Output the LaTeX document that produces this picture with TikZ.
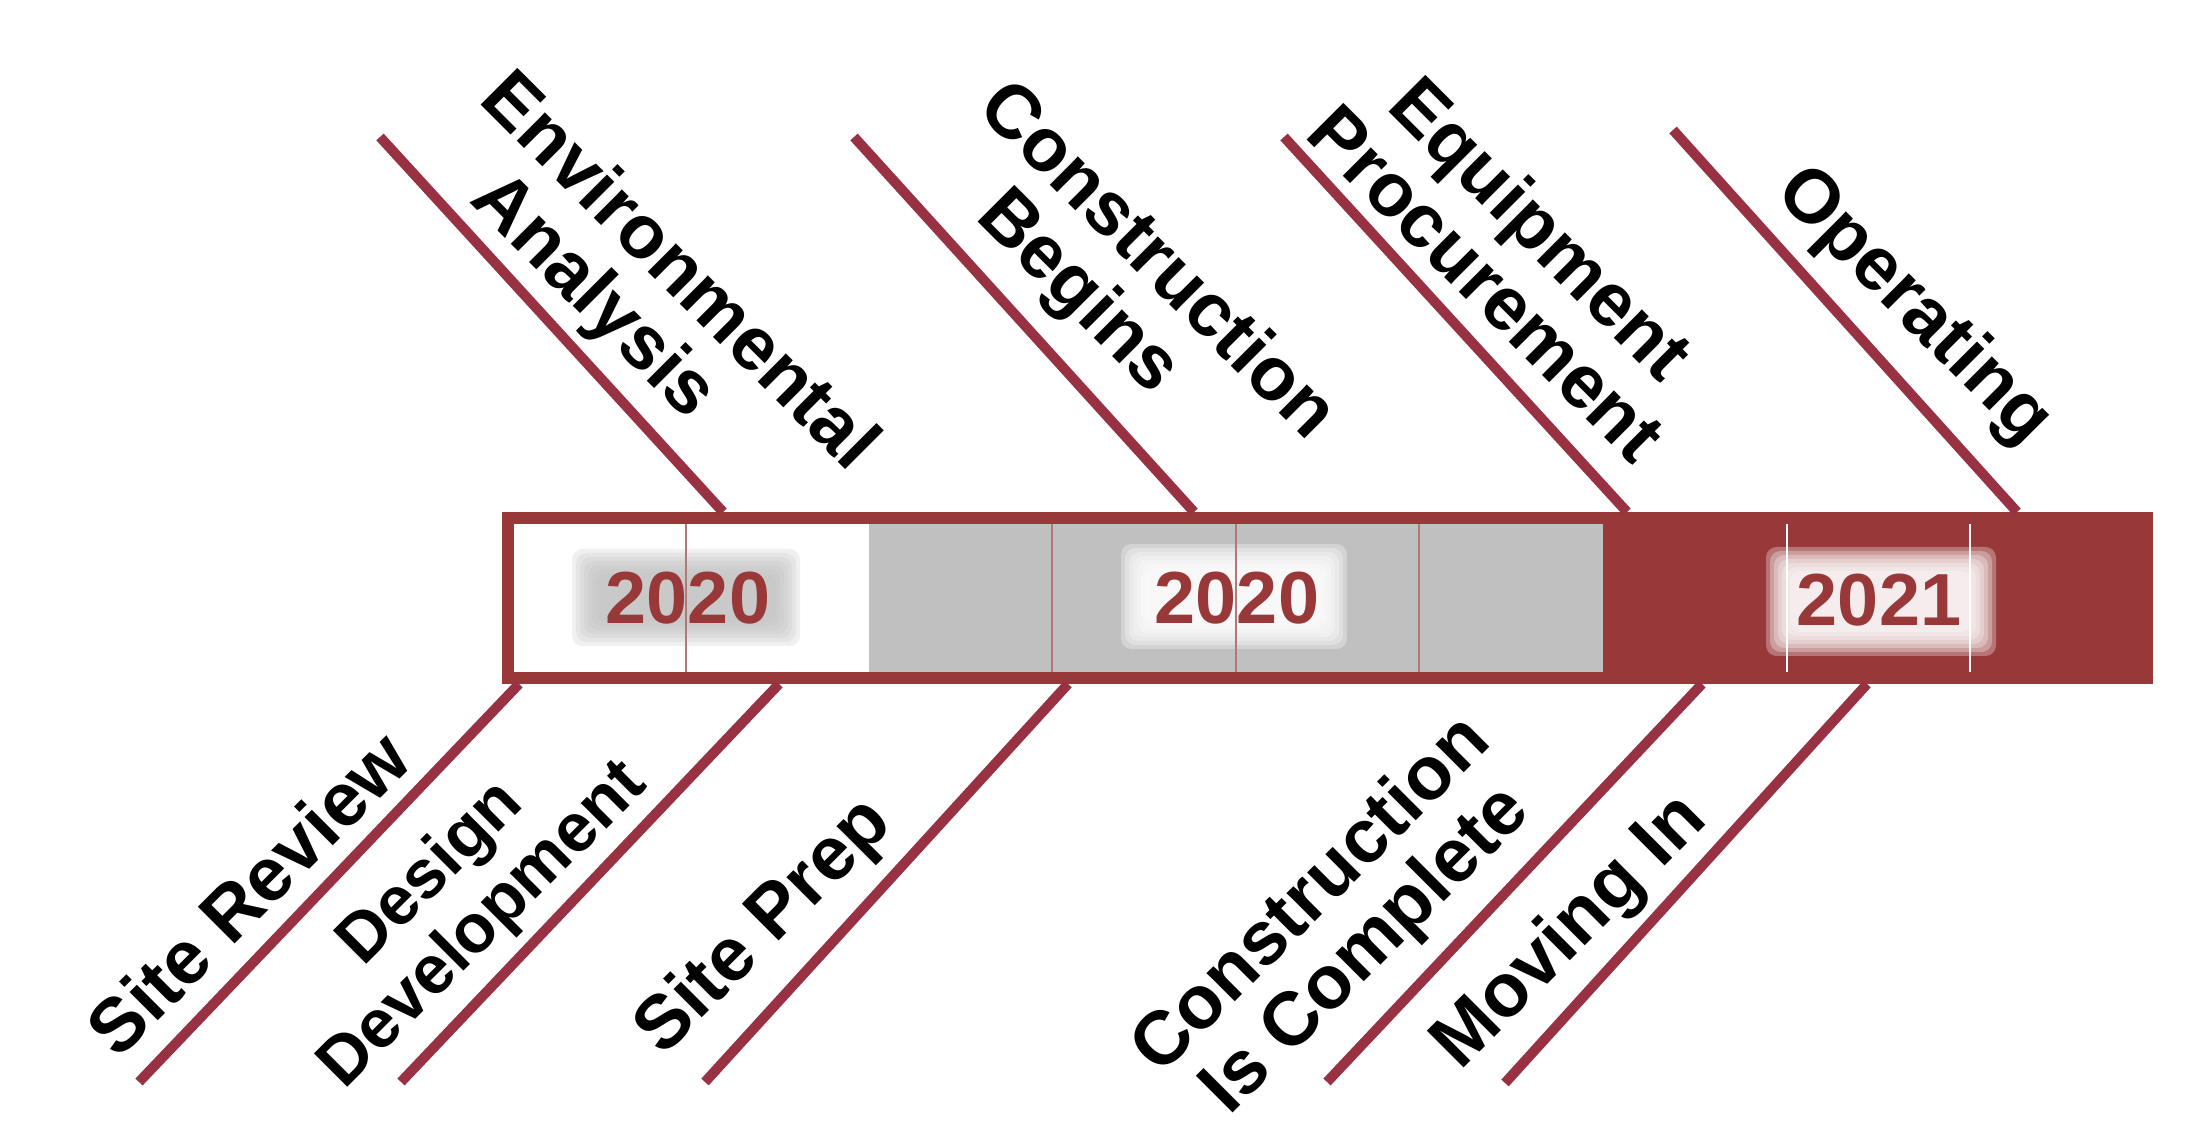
\documentclass[tikz,border=0pt]{standalone}
\usepackage{fontspec}
\setmainfont{Liberation Sans}
\definecolor{barred}{RGB}{153,56,56}
\definecolor{stemred}{RGB}{152,50,66}
\definecolor{cellgray}{RGB}{192,192,192}
\definecolor{cellline}{RGB}{178,120,120}

\begin{document}
\begin{tikzpicture}[
  phase/.style={font=\bfseries\fontsize{21.5}{22}\selectfont, align=center, inner sep=0pt},
  year/.style={text=barred, font=\bfseries\fontsize{21}{22}\selectfont, inner sep=0pt}]
\useasboundingbox (0,0) rectangle (21.89,11.24);
% the bar
\fill[barred] (5.02,4.40) rectangle (21.53,6.12);
\fill[white] (5.14,4.52) rectangle (8.69,6.00);
\fill[cellgray] (8.69,4.52) rectangle (16.03,6.00);
% soft boxes behind the years
\foreach \i in {0,...,6} {
  \fill[gray!50, opacity=0.22, rounded corners=3pt] ({5.72+0.04*\i},{4.78+0.04*\i}) rectangle ({8.00-0.04*\i},{5.75-0.04*\i});
  \fill[white, opacity=0.3, rounded corners=3pt] ({11.21+0.04*\i},{4.75+0.04*\i}) rectangle ({13.47-0.04*\i},{5.80-0.04*\i});
  \fill[white, opacity=0.3, rounded corners=3pt] ({17.66+0.04*\i},{4.68+0.04*\i}) rectangle ({19.96-0.04*\i},{5.77-0.04*\i});
}
\foreach \x in {6.86,10.52,12.36,14.19} \draw[cellline, line width=0.6pt] (\x,4.52) -- (\x,6.00);
\foreach \x in {17.87,19.70} \draw[white, line width=0.6pt] (\x,4.52) -- (\x,6.00);
\node[year] (y1) at (6.88,5.26) {2020};
\node[year] (y2) at (12.37,5.26) {2020};
\node[year] (y3) at (18.79,5.24) {2021};
% stems above
\draw[stemred, line width=0.1cm] (3.80,9.87) -- (7.23,6.12);
\draw[stemred, line width=0.1cm] (8.54,9.87) -- (11.94,6.12);
\draw[stemred, line width=0.1cm] (12.84,9.87) -- (16.27,6.12);
\draw[stemred, line width=0.1cm] (16.73,9.94) -- (20.17,6.12);
% stems below
\draw[stemred, line width=0.1cm] (5.19,4.40) -- (1.39,0.42);
\draw[stemred, line width=0.1cm] (7.79,4.40) -- (4.01,0.42);
\draw[stemred, line width=0.1cm] (10.68,4.40) -- (7.05,0.42);
\draw[stemred, line width=0.1cm] (17.02,4.40) -- (13.27,0.42);
\draw[stemred, line width=0.1cm] (18.67,4.40) -- (15.05,0.41);
% phases
\node[phase, rotate=-45] (envan) at (6.50,8.23) {Environmental\\Analysis\hspace*{0.86cm}};
\node[phase, rotate=-45] (conbeg) at (11.28,8.34) {Construction\\Begins\hspace*{0.67cm}};
\node[phase, rotate=-45] (equip) at (15.15,8.69) {Equipment\\Procurement};
\node[phase, rotate=-45] (oper) at (19.13,8.17) {Operating};
\node[phase, rotate=45] (sitrev) at (2.48,2.31) {Site Review};
\node[phase, rotate=45, font=\bfseries\fontsize{19.5}{21}\selectfont] (desdev) at (4.58,2.24) {Design\\Development};
\node[phase, rotate=45] (sitprep) at (7.65,1.96) {Site Prep};
\node[phase, rotate=45] (concom) at (13.40,2.00) {Construction\\Is Complete};
\node[phase, rotate=45] (movin) at (15.71,1.91) {Moving In};
\end{tikzpicture}
\end{document}
